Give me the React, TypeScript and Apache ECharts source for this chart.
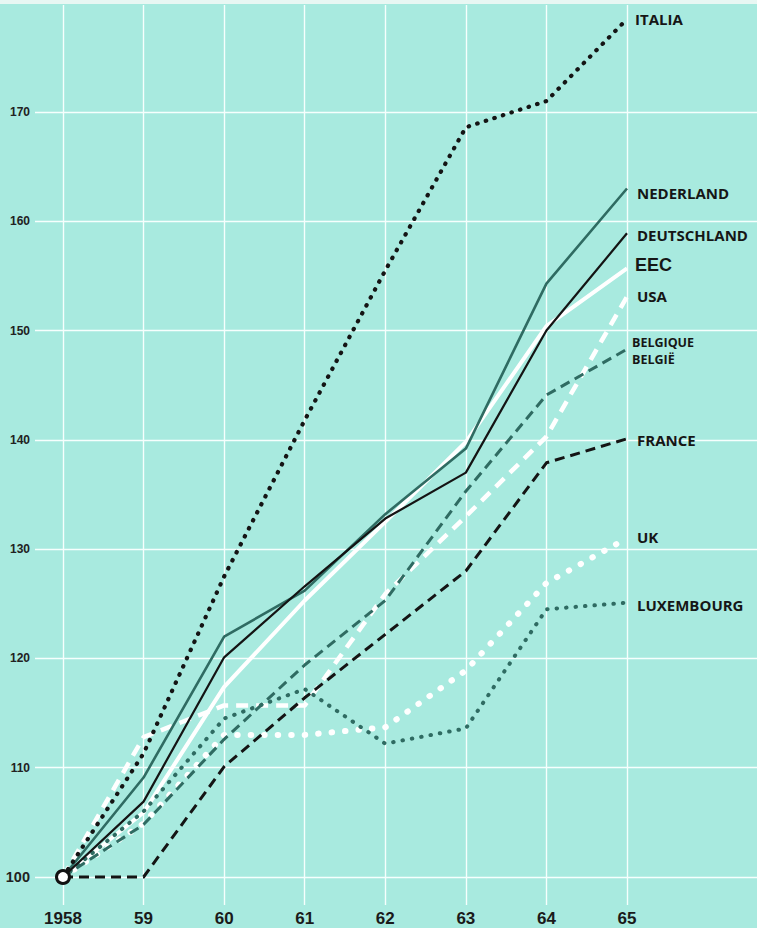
import React, { useEffect, useRef } from 'react';
import * as echarts from 'echarts';

// ---- data ----
const years = ['1958', '59', '60', '61', '62', '63', '64', '65'];
const yTicks = [100, 110, 120, 130, 140, 150, 160, 170];

const italia = [100, 111.3, 127.5, 141.8, 155.5, 168.6, 171.0, 178.5];
const nederland = [100, 109.1, 122.0, 126.2, 133.2, 139.2, 154.3, 163.0];
const deutschland = [100, 106.9, 120.1, 126.6, 132.8, 137.0, 150.0, 158.9];
const eec = [100, 105.9, 117.4, 125.3, 132.5, 139.8, 150.4, 155.7];
const usa = [100, 112.8, 115.7, 115.7, 125.9, 133.0, 140.3, 153.1];
const belgique = [100, 104.8, 112.6, 119.4, 125.3, 135.3, 144.1, 148.3];
const france = [100, 100, 110.1, 116.4, 122.2, 128.0, 137.9, 140.1];
const uk = [100, 104.9, 113.0, 113.0, 113.7, 118.9, 126.9, 131.0];
const luxembourg = [100, 106.0, 114.5, 117.2, 112.2, 113.6, 124.5, 125.1];

// ---- layout constants ----
const X_MIN = -0.3475;
const X_MAX = 8.6135;
const Y_MIN = 97.438;
const Y_MAX = 179.79;

const BG = '#a8eadf';
const TEAL = '#2f6b62';
const BLACK = '#141414';
const WHITE = '#ffffff';
const GRIDLINE = '#f6fffd';
const LABEL_FONT = "'Open Sans', 'DejaVu Sans', sans-serif";

const toPairs = (arr: number[]) => arr.map((v, i) => [i, v]);

const mkLine = (
  name: string,
  label: string,
  data: number[],
  color: string,
  width: number,
  type: any,
  cap: string,
  dy: number,
  z: number,
  labelStyle: any = {}
) => ({
  type: 'line',
  name,
  data: toPairs(data),
  showSymbol: false,
  symbol: 'none',
  z,
  silent: true,
  lineStyle: { color, width, type, cap, join: 'round' },
  endLabel: {
    show: true,
    formatter: label,
    distance: 10,
    offset: [0, dy],
    color: '#161616',
    fontFamily: LABEL_FONT,
    fontWeight: 700,
    fontSize: 15,
    ...labelStyle,
  },
});

const option: any = {
  animation: false,
  backgroundColor: BG,
  grid: { left: 35, right: 0, top: 1, bottom: 23 },
  xAxis: { type: 'value', min: X_MIN, max: X_MAX, show: false },
  yAxis: { type: 'value', min: Y_MIN, max: Y_MAX, show: false },
  series: [
    {
      type: 'line',
      data: [],
      silent: true,
      z: 0,
      markLine: {
        z: 0,
        symbol: 'none',
        silent: true,
        animation: false,
        lineStyle: { color: GRIDLINE, width: 1.4, type: 'solid' },
        label: { show: true, position: 'start', distance: 5 },
        data: [
          ...yTicks.map((v) => [
            {
              coord: [X_MIN, v],
              label: {
                show: true,
                position: 'start',
                distance: 5,
                formatter: String(v),
                color: '#222',
                fontFamily: "'Liberation Sans', Arial, sans-serif",
                fontWeight: 'bold',
                fontSize: v === 100 ? 14.5 : 12,
              },
            },
            { coord: [X_MAX, v] },
          ]),
          ...years.map((y, i) => [
            {
              coord: [i, Y_MIN],
              label: {
                show: true,
                position: 'start',
                distance: 5,
                formatter: y,
                color: '#1a1a1a',
                fontFamily: "'Liberation Sans Narrow', 'Liberation Sans', Arial, sans-serif",
                fontWeight: 'bold',
                fontSize: 17,
              },
            },
            { coord: [i, Y_MAX] },
          ]),
        ],
      },
    },
    mkLine('eec', 'EEC', eec, WHITE, 4, 'solid', 'butt', -3, 3, {
      fontFamily: "'Liberation Sans', Arial, sans-serif",
      fontSize: 18,
      fontWeight: 'bold',
      distance: 8,
    }),
    mkLine('usa', 'USA', usa, WHITE, 4.5, [12, 8], 'butt', -1, 3),
    mkLine('uk', 'UK', uk, WHITE, 6, [0.5, 13], 'round', -1, 3),
    mkLine('belgique', 'BELGIQUE\nBELGIË', belgique, TEAL, 3, [10, 6], 'butt', 2, 4, {
      fontSize: 12.5,
      lineHeight: 17.5,
      distance: 5,
    }),
    mkLine('luxembourg', 'LUXEMBOURG', luxembourg, TEAL, 4, [0.5, 9], 'round', 2, 4),
    mkLine('france', 'FRANCE', france, BLACK, 3, [10, 6], 'butt', 1, 4),
    mkLine('nederland', 'NEDERLAND', nederland, TEAL, 2.6, 'solid', 'butt', 5, 5),
    mkLine('deutschland', 'DEUTSCHLAND', deutschland, BLACK, 2.2, 'solid', 'butt', 2, 6),
    mkLine('italia', 'ITALIA', italia, BLACK, 4.2, [0.5, 8.5], 'round', 0, 6, { distance: 8 }),
    {
      type: 'scatter',
      data: [[0, eec[0]]],
      symbol: 'circle',
      symbolSize: 13,
      z: 10,
      silent: true,
      itemStyle: { color: '#ffffff', borderColor: '#111111', borderWidth: 3, opacity: 1 },
    },
  ],
};

export default function App() {
  const ref = useRef<HTMLDivElement>(null);
  useEffect(() => {
    if (!ref.current) return;
    const chart = echarts.init(ref.current, null, { renderer: 'svg' });
    chart.setOption(option);
    return () => chart.dispose();
  }, []);
  return (
    <div
      style={{
        position: 'fixed',
        left: 0,
        top: 0,
        width: 757,
        height: 928,
        background: '#e8f7f3',
        overflow: 'hidden',
      }}
    >
      <div ref={ref} style={{ position: 'absolute', left: 0, top: 4, width: 757, height: 924 }} />
    </div>
  );
}
